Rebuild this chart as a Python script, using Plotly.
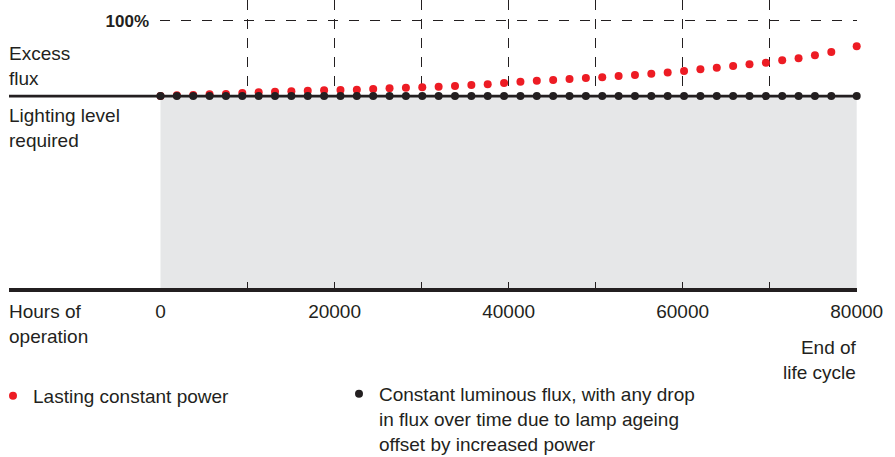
import plotly.graph_objects as go

# ---------------- data ----------------
hours = [0, 1880, 3760, 5640, 7520, 9400, 11280, 13160, 15040, 16920,
         18800, 20680, 22560, 24440, 26320, 28200, 30080, 31960, 33840, 35720,
         37600, 39480, 41360, 43240, 45120, 47000, 48880, 50760, 52640, 54520,
         56400, 58280, 60160, 62040, 63920, 65800, 67680, 69560, 71440, 73320,
         75200, 77080, 80000]

# lasting constant power (flux in % of 100%)
red_flux = [72.0, 72.3, 72.4, 72.7, 72.8, 73.2, 73.4, 73.6, 73.8, 74.0,
            74.2, 74.3, 74.4, 74.6, 74.9, 75.1, 75.3, 75.5, 75.8, 76.1,
            76.4, 76.9, 77.3, 77.7, 78.0, 78.4, 78.7, 79.0, 79.5, 79.8,
            80.3, 80.8, 81.3, 82.0, 82.5, 83.2, 83.8, 84.4, 85.3, 86.1,
            87.2, 88.4, 90.5]

# constant luminous flux
black_flux = [72, 72, 72, 72, 72, 72, 72, 72, 72, 72,
              72, 72, 72, 72, 72, 72, 72, 72, 72, 72,
              72, 72, 72, 72, 72, 72, 72, 72, 72, 72,
              72, 72, 72, 72, 72, 72, 72, 72, 72, 72,
              72, 72, 72]

lighting_level = 72

x_tickvals = [0, 10000, 20000, 30000, 40000, 50000, 60000, 70000, 80000]
x_ticktext = ["0", "", "20000", "", "40000", "", "60000", "", "80000"]
y_tickvals = [100]
y_ticktext = ["<b>100%</b>"]

red_name = "Lasting constant power"
black_name = ("Constant luminous flux, with any drop<br>"
              "in flux over time due to lamp ageing<br>"
              "offset by increased power")

# ---------------- style ----------------
W, H = 895, 457
L, R, T, B = 160, 38, 0, 167
PW, PH = W - L - R, H - T - B
Y_MAX = 107.69
INK = "#231f20"
RED = "#ed1c24"
GREY = "#e6e7e8"
FONT = "Liberation Sans, Arial, sans-serif"


def xp(px):
    return (px - L) / PW


def yp(py):
    return (PH + T - py) / PH


fig = go.Figure()

# grey area under the required lighting level
fig.add_trace(go.Scatter(
    x=hours, y=black_flux, mode="lines", line=dict(width=0),
    fill="tozeroy", fillcolor=GREY, showlegend=False, hoverinfo="skip"))

fig.add_trace(go.Scatter(
    x=hours, y=red_flux, mode="markers", name=red_name, legend="legend",
    cliponaxis=False,
    marker=dict(color=RED, size=8, line=dict(width=0))))

fig.add_trace(go.Scatter(
    x=hours, y=black_flux, mode="markers", name=black_name, legend="legend2",
    cliponaxis=False,
    marker=dict(color=INK, size=8, line=dict(width=0))))

level_p = lighting_level / Y_MAX
fig.add_shape(type="line", xref="paper", yref="paper",
              x0=xp(9), x1=1.0, y0=level_p, y1=level_p,
              line=dict(color=INK, width=2.8), layer="above")
fig.add_shape(type="line", xref="paper", yref="paper",
              x0=xp(9), x1=1.0, y0=0, y1=0,
              line=dict(color=INK, width=4), layer="above")

ann_font = dict(family=FONT, size=19, color=INK)
fig.add_annotation(text="Excess<br>flux", xref="paper", yref="paper",
                   x=xp(8), y=yp(66.5), xanchor="left", yanchor="middle",
                   align="left", showarrow=False, font=ann_font, borderpad=0)
fig.add_annotation(text="Lighting level<br>required", xref="paper", yref="paper",
                   x=xp(8), y=yp(128), xanchor="left", yanchor="middle",
                   align="left", showarrow=False, font=ann_font, borderpad=0)
fig.add_annotation(text="Hours of<br>operation", xref="paper", yref="paper",
                   x=xp(8), y=yp(324), xanchor="left", yanchor="middle",
                   align="left", showarrow=False, font=ann_font, borderpad=0)
fig.add_annotation(text="End of<br>life cycle", xref="paper", yref="paper",
                   x=xp(858), y=yp(360), xanchor="right", yanchor="middle",
                   align="right", showarrow=False, font=ann_font, borderpad=0)

leg_common = dict(orientation="v", xref="paper", yref="paper",
                  xanchor="left", yanchor="top", valign="top",
                  font=dict(family=FONT, size=19, color=INK),
                  bgcolor="rgba(0,0,0,0)", borderwidth=0,
                  itemclick=False, itemdoubleclick=False)

fig.update_layout(
    width=W, height=H,
    margin=dict(l=L, r=R, t=T, b=B, autoexpand=False),
    paper_bgcolor="white", plot_bgcolor="rgba(0,0,0,0)",
    font=dict(family=FONT, size=19, color=INK),
    showlegend=True,
    legend=dict(x=xp(-7), y=yp(377), **leg_common),
    legend2=dict(x=xp(339), y=yp(375), **leg_common),
    xaxis=dict(range=[-57, 80034], tickvals=x_tickvals, ticktext=x_ticktext,
               ticks="inside", ticklen=8, tickwidth=1, tickcolor=INK,
               showgrid=True, gridcolor=INK, gridwidth=1, griddash="10px,9px",
               zeroline=False, showline=False,
               tickfont=dict(family=FONT, size=19, color=INK),
               ticklabelstandoff=8, fixedrange=True),
    yaxis=dict(range=[0, Y_MAX], tickvals=y_tickvals, ticktext=y_ticktext,
               ticks="", showgrid=True, gridcolor=INK, gridwidth=1,
               griddash="10px,11px", zeroline=False, showline=False,
               tickfont=dict(family=FONT, size=17, color=INK),
               ticklabelstandoff=10, fixedrange=True),
)

fig.write_html("out.html", config={"displayModeBar": False},
               post_script="document.body.style.margin='0px';")
